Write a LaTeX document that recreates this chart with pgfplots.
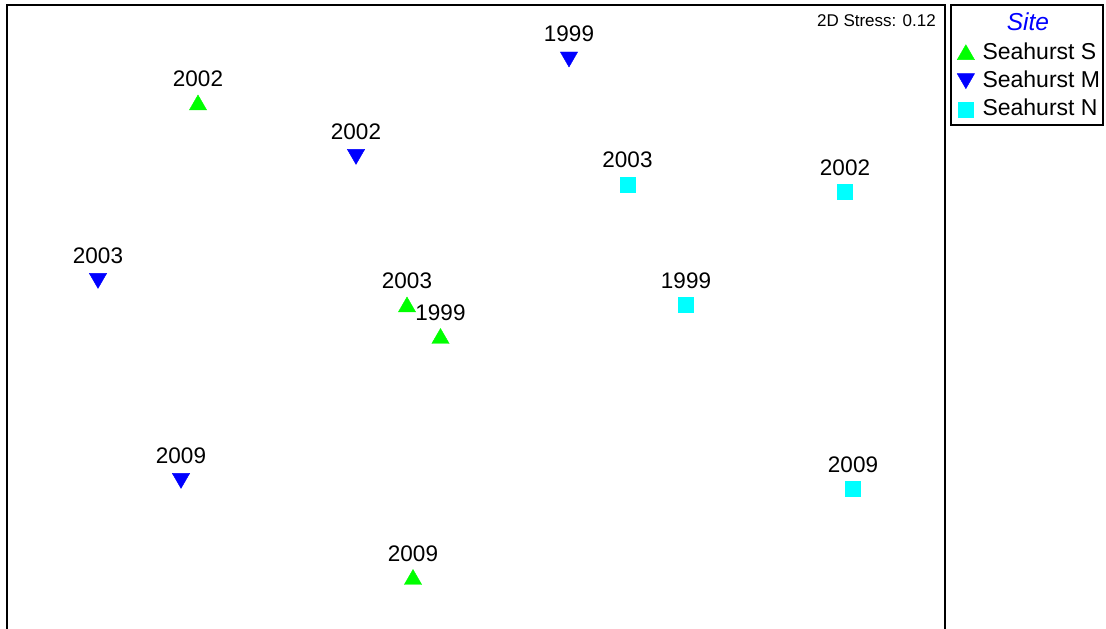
\documentclass[border=0pt]{standalone}
\usepackage{pgfplots}
\pgfplotsset{compat=1.18}
\usepackage{pgfplotstable}
\usepackage{fontspec}
\setmainfont{Liberation Sans}
\definecolor{sgreen}{RGB}{0,255,0}
\definecolor{mblue}{RGB}{0,0,255}
\definecolor{ncyan}{RGB}{0,255,255}
\pgfplotsset{legimg/.style={legend image code/.code={\draw[##1] plot coordinates {(8pt,#1)};\path (0pt,0pt) (16pt,0pt);}}}
\pgfplotstableread{
x y label
198 524 2002
407 322 2003
440.5 290.5 1999
413 49.5 2009
}\siteS
\pgfplotstableread{
x y label
569 572 1999
356 474.6 2002
98 350.6 2003
181 150.6 2009
}\siteM
\pgfplotstableread{
x y label
627.5 444.5 2003
845 437 2002
686 324 1999
853 140 2009
}\siteN
\begin{document}
\begin{tikzpicture}
\useasboundingbox (0,0) rectangle (1106pt,629pt);
\begin{axis}[
 at={(7pt,-20pt)}, anchor=south west,
 width=938pt, height=644pt, scale only axis,
 xmin=7, xmax=945, ymin=-20, ymax=624,
 axis line style={line width=1.5pt},
 ticks=none,
 clip=false,
 nodes near coords,
 point meta=explicit symbolic,
 every node near coord/.style={anchor=base, inner sep=0pt, font=\fontsize{22.5}{26}\selectfont, text=black},
 legend cell align=left,
 legend style={at={(axis cs:957,587)}, anchor=north west, draw=none, fill=none,
   font=\fontsize{23}{27}\selectfont, row sep=5pt, column sep=7pt, inner sep=0pt,
   nodes={inner sep=1pt, text height=16pt, text depth=5pt}},
]
\addplot[only marks, mark=triangle*, mark size=10pt, color=sgreen,
  every node near coord/.append style={yshift=18pt}, legimg=-1pt]
  table[x=x, y=y, meta=label]{\siteS};
\addlegendentry{Seahurst S}
\addplot[only marks, mark=triangle*, mark options={rotate=180}, mark size=10pt, color=mblue,
  every node near coord/.append style={yshift=15pt}, legimg=3pt]
  table[x=x, y=y, meta=label]{\siteM};
\addlegendentry{Seahurst M}
\addplot[only marks, mark=square*, mark size=7.5pt, color=ncyan,
  every node near coord/.append style={yshift=16.5pt}, legimg=0pt]
  table[x=x, y=y, meta=label]{\siteN};
\addlegendentry{Seahurst N}
\node[anchor=base east, font=\fontsize{17}{20}\selectfont, inner sep=0pt] at (axis cs:936,602) {2D Stress: 0.12};
\draw[line width=1.5pt] (axis cs:951,624) rectangle (axis cs:1103,504);
\node[font=\fontsize{24.5}{28}\selectfont\itshape, text=mblue, inner sep=0pt] at (axis cs:1028,607) {Site};
\end{axis}
\end{tikzpicture}
\end{document}
